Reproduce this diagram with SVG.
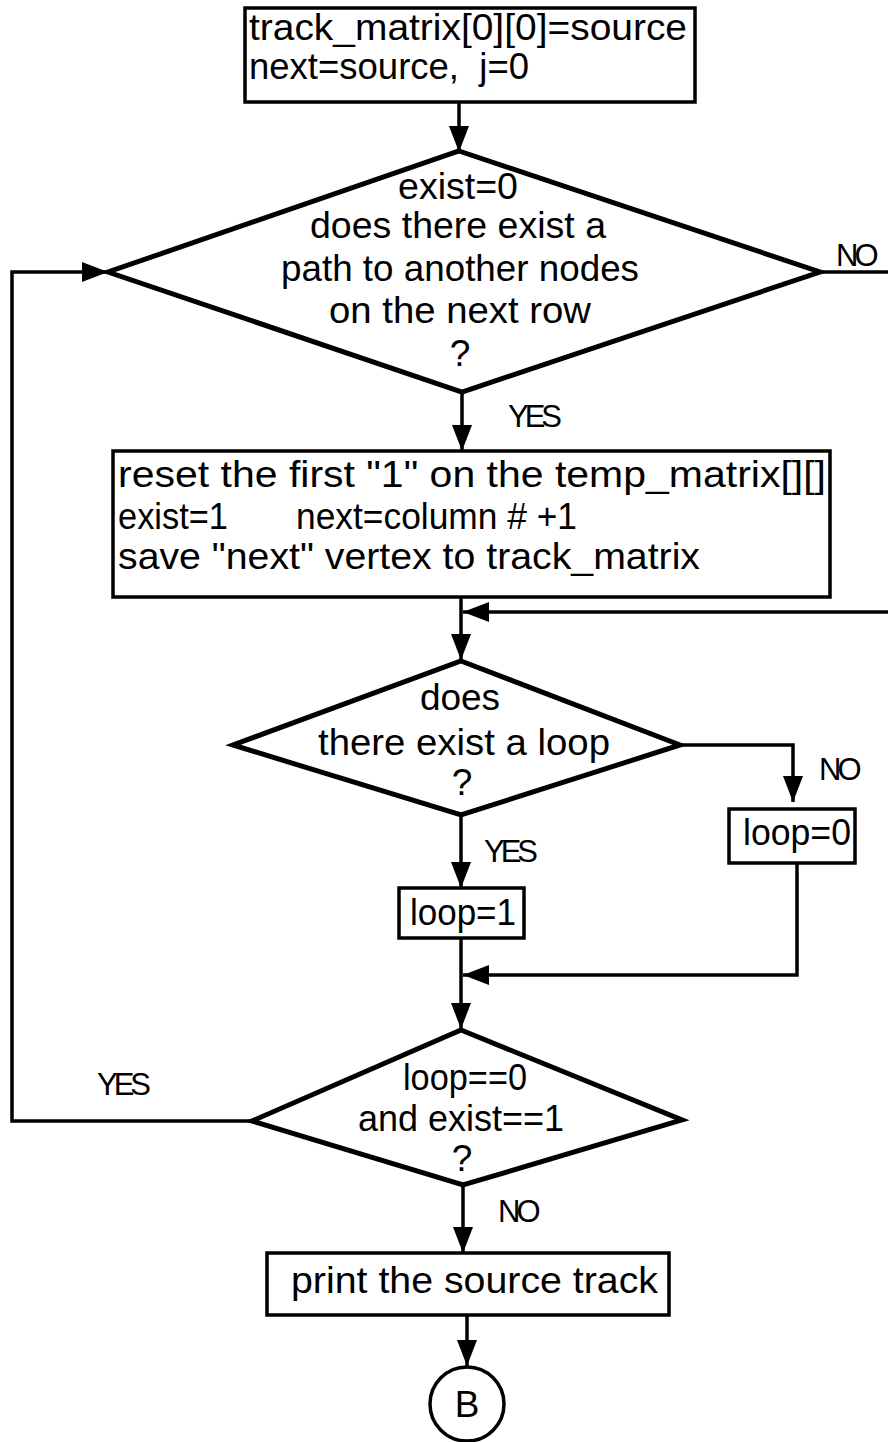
<svg xmlns="http://www.w3.org/2000/svg" width="888" height="1442" viewBox="0 0 888 1442">
  <style>
    .box { fill: #fff; stroke: #000; stroke-width: 3.5; }
    .dia { fill: #fff; stroke: #000; stroke-width: 5; stroke-linejoin: miter; }
    .wire { fill: none; stroke: #000; stroke-width: 3.5; }
    text { font-family: "Liberation Sans", Arial, sans-serif; font-size: 37px; fill: #000; }
    .c { text-anchor: middle; }
    .lbl { font-size: 31px; letter-spacing: -4px; }
  </style>
  <defs>
    <marker id="arr" viewBox="0 0 26 20" refX="26" refY="10" markerWidth="26" markerHeight="20" markerUnits="userSpaceOnUse" orient="auto">
      <path d="M0,0 L26,10 L0,20 Z" fill="#000"/>
    </marker>
  </defs>

  <!-- connectors -->
  <g id="connectors">
    <line class="wire" x1="459" y1="102" x2="459" y2="152" marker-end="url(#arr)"/>
    <polyline class="wire" points="820,272 888,272"/>
    <polyline class="wire" points="252,1121 12,1121 12,272 108,272" marker-end="url(#arr)"/>
    <line class="wire" x1="462" y1="392" x2="462" y2="451" marker-end="url(#arr)"/>
    <line class="wire" x1="461" y1="597" x2="461" y2="660" marker-end="url(#arr)"/>
    <line class="wire" x1="888" y1="612" x2="463" y2="612" marker-end="url(#arr)"/>
    <polyline class="wire" points="680,745 793,745 793,802" marker-end="url(#arr)"/>
    <line class="wire" x1="461" y1="815" x2="461" y2="888" marker-end="url(#arr)"/>
    <polyline class="wire" points="797,863 797,975 463,975" marker-end="url(#arr)"/>
    <line class="wire" x1="461" y1="938" x2="461" y2="1029" marker-end="url(#arr)"/>
    <line class="wire" x1="463" y1="1185" x2="463" y2="1253" marker-end="url(#arr)"/>
    <line class="wire" x1="467" y1="1315" x2="467" y2="1366" marker-end="url(#arr)"/>
    <text class="lbl" x="836" y="266">NO</text>
    <text class="lbl" x="508" y="427">YES</text>
    <text class="lbl" x="819" y="780">NO</text>
    <text class="lbl" x="484" y="862">YES</text>
    <text class="lbl" x="97" y="1095">YES</text>
    <text class="lbl" x="498" y="1222">NO</text>
  </g>

  <g id="init">
    <rect class="box" x="245" y="8" width="450" height="94"/>
    <text x="249" y="40" font-size="30" textLength="438" lengthAdjust="spacingAndGlyphs">track_matrix[0][0]=source</text>
    <text x="249" y="79" font-size="30" textLength="280" lengthAdjust="spacingAndGlyphs" xml:space="preserve">next=source,  j=0</text>
  </g>

  <g id="path-check">
    <polygon class="dia" points="459,151 820,272 462,392 108,272"/>
    <text class="c" x="458" y="199" textLength="120" lengthAdjust="spacingAndGlyphs">exist=0</text>
    <text class="c" x="458" y="238" textLength="296" lengthAdjust="spacingAndGlyphs">does there exist a</text>
    <text class="c" x="460" y="281" textLength="358" lengthAdjust="spacingAndGlyphs">path to another nodes</text>
    <text class="c" x="460" y="323" textLength="262" lengthAdjust="spacingAndGlyphs">on the next row</text>
    <text class="c" x="460" y="366">?</text>
  </g>

  <g id="reset">
    <rect class="box" x="113" y="451" width="717" height="146"/>
    <text x="118" y="487" textLength="708" lengthAdjust="spacingAndGlyphs">reset the first "1" on the temp_matrix[][]</text>
    <text y="529"><tspan x="118" textLength="110" lengthAdjust="spacingAndGlyphs">exist=1</tspan><tspan x="296" textLength="281" lengthAdjust="spacingAndGlyphs">next=column # +1</tspan></text>
    <text x="118" y="569" textLength="582" lengthAdjust="spacingAndGlyphs">save "next" vertex to track_matrix</text>
  </g>

  <g id="loop-check">
    <polygon class="dia" points="461,661 680,745 461,815 233,745"/>
    <text class="c" x="460" y="710">does</text>
    <text class="c" x="464" y="755" textLength="292" lengthAdjust="spacingAndGlyphs">there exist a loop</text>
    <text class="c" x="462" y="795">?</text>
  </g>

  <g id="loop-zero">
    <rect class="box" x="729" y="809" width="126" height="54"/>
    <text x="743" y="845" textLength="108" lengthAdjust="spacingAndGlyphs">loop=0</text>
  </g>

  <g id="loop-one">
    <rect class="box" x="399" y="888" width="125" height="50"/>
    <text x="410" y="925" textLength="106" lengthAdjust="spacingAndGlyphs">loop=1</text>
  </g>

  <g id="continue-check">
    <polygon class="dia" points="461,1030 682,1120 463,1185 252,1121"/>
    <text class="c" x="465" y="1090" textLength="124" lengthAdjust="spacingAndGlyphs">loop==0</text>
    <text class="c" x="461" y="1131" textLength="206" lengthAdjust="spacingAndGlyphs">and exist==1</text>
    <text class="c" x="462" y="1171">?</text>
  </g>

  <g id="print">
    <rect class="box" x="267" y="1253" width="402" height="62"/>
    <text x="291" y="1293" textLength="367" lengthAdjust="spacingAndGlyphs">print the source track</text>
  </g>

  <g id="connector-b">
    <circle cx="467" cy="1404" r="37" fill="#fff" stroke="#000" stroke-width="3.5"/>
    <text class="c" x="467" y="1417">B</text>
  </g>
</svg>
